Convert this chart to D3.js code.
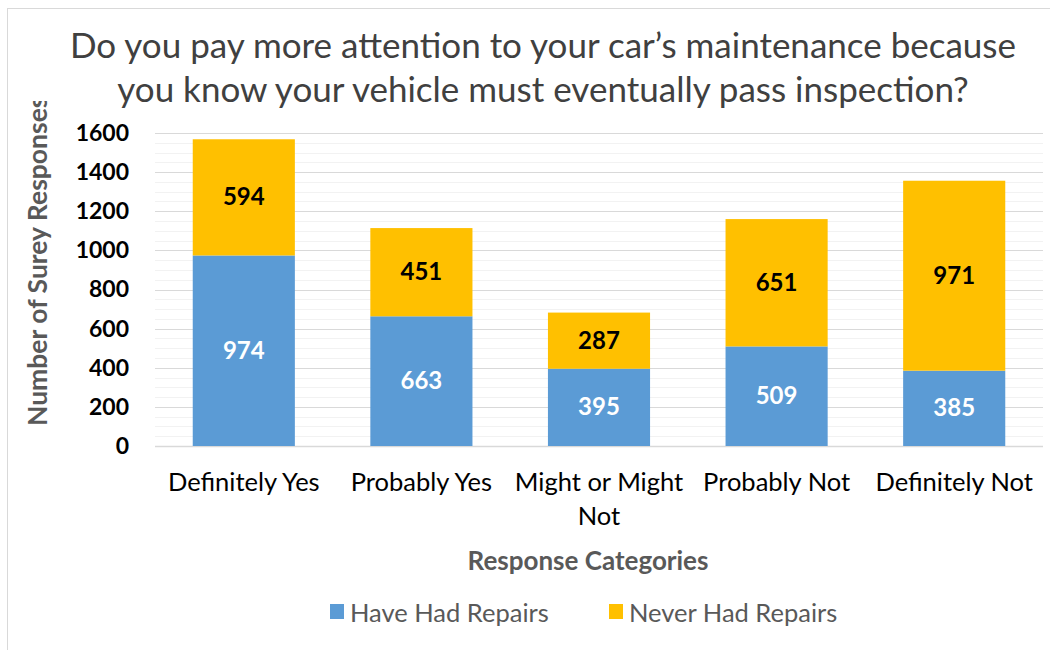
<!DOCTYPE html>
<html lang="en">
<head>
  <meta charset="UTF-8" />
  <title>Car maintenance survey</title>
  <script src="https://d3js.org/d3.v7.min.js"></script>
  <style>
    body { margin: 0; background: #fff; font-family: Lato, "Open Sans", sans-serif; }
    svg { display: block; }
  </style>
</head>
<body>
<svg width="1050" height="650"></svg>
<script>
  // Données
  const categories = ["Definitely Yes", "Probably Yes", "Might or Might Not", "Probably Not", "Definitely Not"];
  const haveHadRepairs = [974, 663, 395, 509, 385];
  const neverHadRepairs = [594, 451, 287, 651, 971];
  const seriesNames = ["Have Had Repairs", "Never Had Repairs"];
  const seriesColors = ["#5B9BD5", "#FFC000"];
  const yTicks = [0, 200, 400, 600, 800, 1000, 1200, 1400, 1600];

  const svg = d3.select("svg");
  const margin = { left: 155, right: 1043, top: 133, bottom: 446 };

  // cadre du graphique
  svg.append("rect")
    .attr("x", 7.5).attr("y", 8.5)
    .attr("width", 1100).attr("height", 700)
    .attr("fill", "#fff").attr("stroke", "#D9D9D9");

  const x = d3.scaleBand()
    .domain(categories)
    .range([margin.left, margin.right])
    .paddingInner(0.425)
    .paddingOuter(0.2125);

  const y = d3.scaleLinear()
    .domain([0, 1600])
    .range([margin.bottom, margin.top]);

  // lignes de grille secondaires
  svg.append("g")
    .selectAll("line")
    .data(d3.range(50, 1600, 50).filter(v => v % 200 !== 0))
    .join("line")
    .attr("x1", margin.left).attr("x2", margin.right)
    .attr("y1", d => Math.round(y(d)) + 0.5).attr("y2", d => Math.round(y(d)) + 0.5)
    .attr("stroke", "#F2F2F2");

  // grille principale
  svg.append("g")
    .selectAll("line")
    .data(yTicks)
    .join("line")
    .attr("x1", margin.left).attr("x2", margin.right)
    .attr("y1", d => Math.round(y(d)) + 0.5).attr("y2", d => Math.round(y(d)) + 0.5)
    .attr("stroke", "#D9D9D9")
    .attr("stroke-width", d => d === 0 ? 1.5 : 1);

  // empilement
  const rows = categories.map((c, i) => ({ cat: c, have: haveHadRepairs[i], never: neverHadRepairs[i] }));
  const stack = d3.stack().keys(["have", "never"])(rows);

  const layers = svg.append("g").selectAll("g")
    .data(stack)
    .join("g")
    .attr("fill", (d, i) => seriesColors[i]);

  layers.selectAll("rect")
    .data(d => d)
    .join("rect")
    .attr("x", d => x(d.data.cat))
    .attr("width", x.bandwidth())
    .attr("y", d => y(d[1]))
    .attr("height", d => y(d[0]) - y(d[1]));

  layers.selectAll("text")
    .data((d, i) => d.map(s => ({ s, i })))
    .join("text")
    .attr("x", d => x(d.s.data.cat) + x.bandwidth() / 2)
    .attr("y", d => (y(d.s[0]) + y(d.s[1])) / 2 + 8)
    .attr("text-anchor", "middle")
    .attr("font-size", 24)
    .attr("font-weight", "bold")
    .attr("fill", d => d.i === 0 ? "#fff" : "#000")
    .text(d => d.s[1] - d.s[0]);

  // axe Y
  const yAxis = svg.append("g")
    .attr("transform", `translate(${margin.left - 26},0)`)
    .call(d3.axisLeft(y).tickValues(yTicks).tickFormat(d3.format("d")).tickSize(0).tickPadding(0));
  yAxis.select(".domain").remove();
  yAxis.selectAll("text")
    .attr("font-family", "Lato, sans-serif")
    .attr("font-size", 23)
    .attr("font-weight", "bold")
    .attr("fill", "#000");

  // axe X
  const xAxis = svg.append("g")
    .attr("transform", `translate(0,${margin.bottom})`)
    .call(d3.axisBottom(x).tickSize(0).tickPadding(0));
  xAxis.select(".domain").remove();
  xAxis.selectAll("text").remove();
  xAxis.selectAll(".tick").each(function (d) {
    const g = d3.select(this);
    const lines = d === "Might or Might Not" ? ["Might or Might", "Not"] : [d];
    lines.forEach((t, k) => {
      g.append("text")
        .attr("y", 45 + k * 34)
        .attr("text-anchor", "middle")
        .attr("font-family", "Lato, sans-serif")
        .attr("font-size", 25.5)
        .attr("fill", "#000")
        .text(t);
    });
  });

  // titre
  const titleLines = ["Do you pay more attention to your car\u2019s maintenance because",
                      "you know your vehicle must eventually pass inspection?"];
  svg.append("g").selectAll("text")
    .data(titleLines)
    .join("text")
    .attr("x", 543)
    .attr("y", (d, i) => 58 + i * 44)
    .attr("text-anchor", "middle")
    .attr("font-size", 35)
    .attr("fill", "#404040")
    .text(d => d);

  // titre axe Y (coupé en haut comme dans l'original)
  svg.append("clipPath").attr("id", "yclip")
    .append("rect").attr("x", 0).attr("y", 101).attr("width", 80).attr("height", 400);
  svg.append("g")
    .attr("clip-path", "url(#yclip)")
    .append("text")
    .attr("transform", "translate(47,426) rotate(-90)")
    .attr("font-size", 26.5)
    .attr("font-weight", "bold")
    .attr("fill", "#595959")
    .text("Number of Surey Responses");

  // titre axe X
  svg.append("text")
    .attr("x", 588).attr("y", 570)
    .attr("text-anchor", "middle")
    .attr("font-size", 26)
    .attr("font-weight", "bold")
    .attr("fill", "#595959")
    .text("Response Categories");

  // légende
  const legendX = [330, 609];
  const legend = svg.append("g").selectAll("g")
    .data(seriesNames)
    .join("g")
    .attr("transform", (d, i) => `translate(${legendX[i]},604)`);
  legend.append("rect")
    .attr("width", 14).attr("height", 15)
    .attr("fill", (d, i) => seriesColors[i]);
  legend.append("text")
    .attr("x", 20).attr("y", 18)
    .attr("font-size", 25.5)
    .attr("fill", "#595959")
    .text(d => d);
</script>
</body>
</html>
